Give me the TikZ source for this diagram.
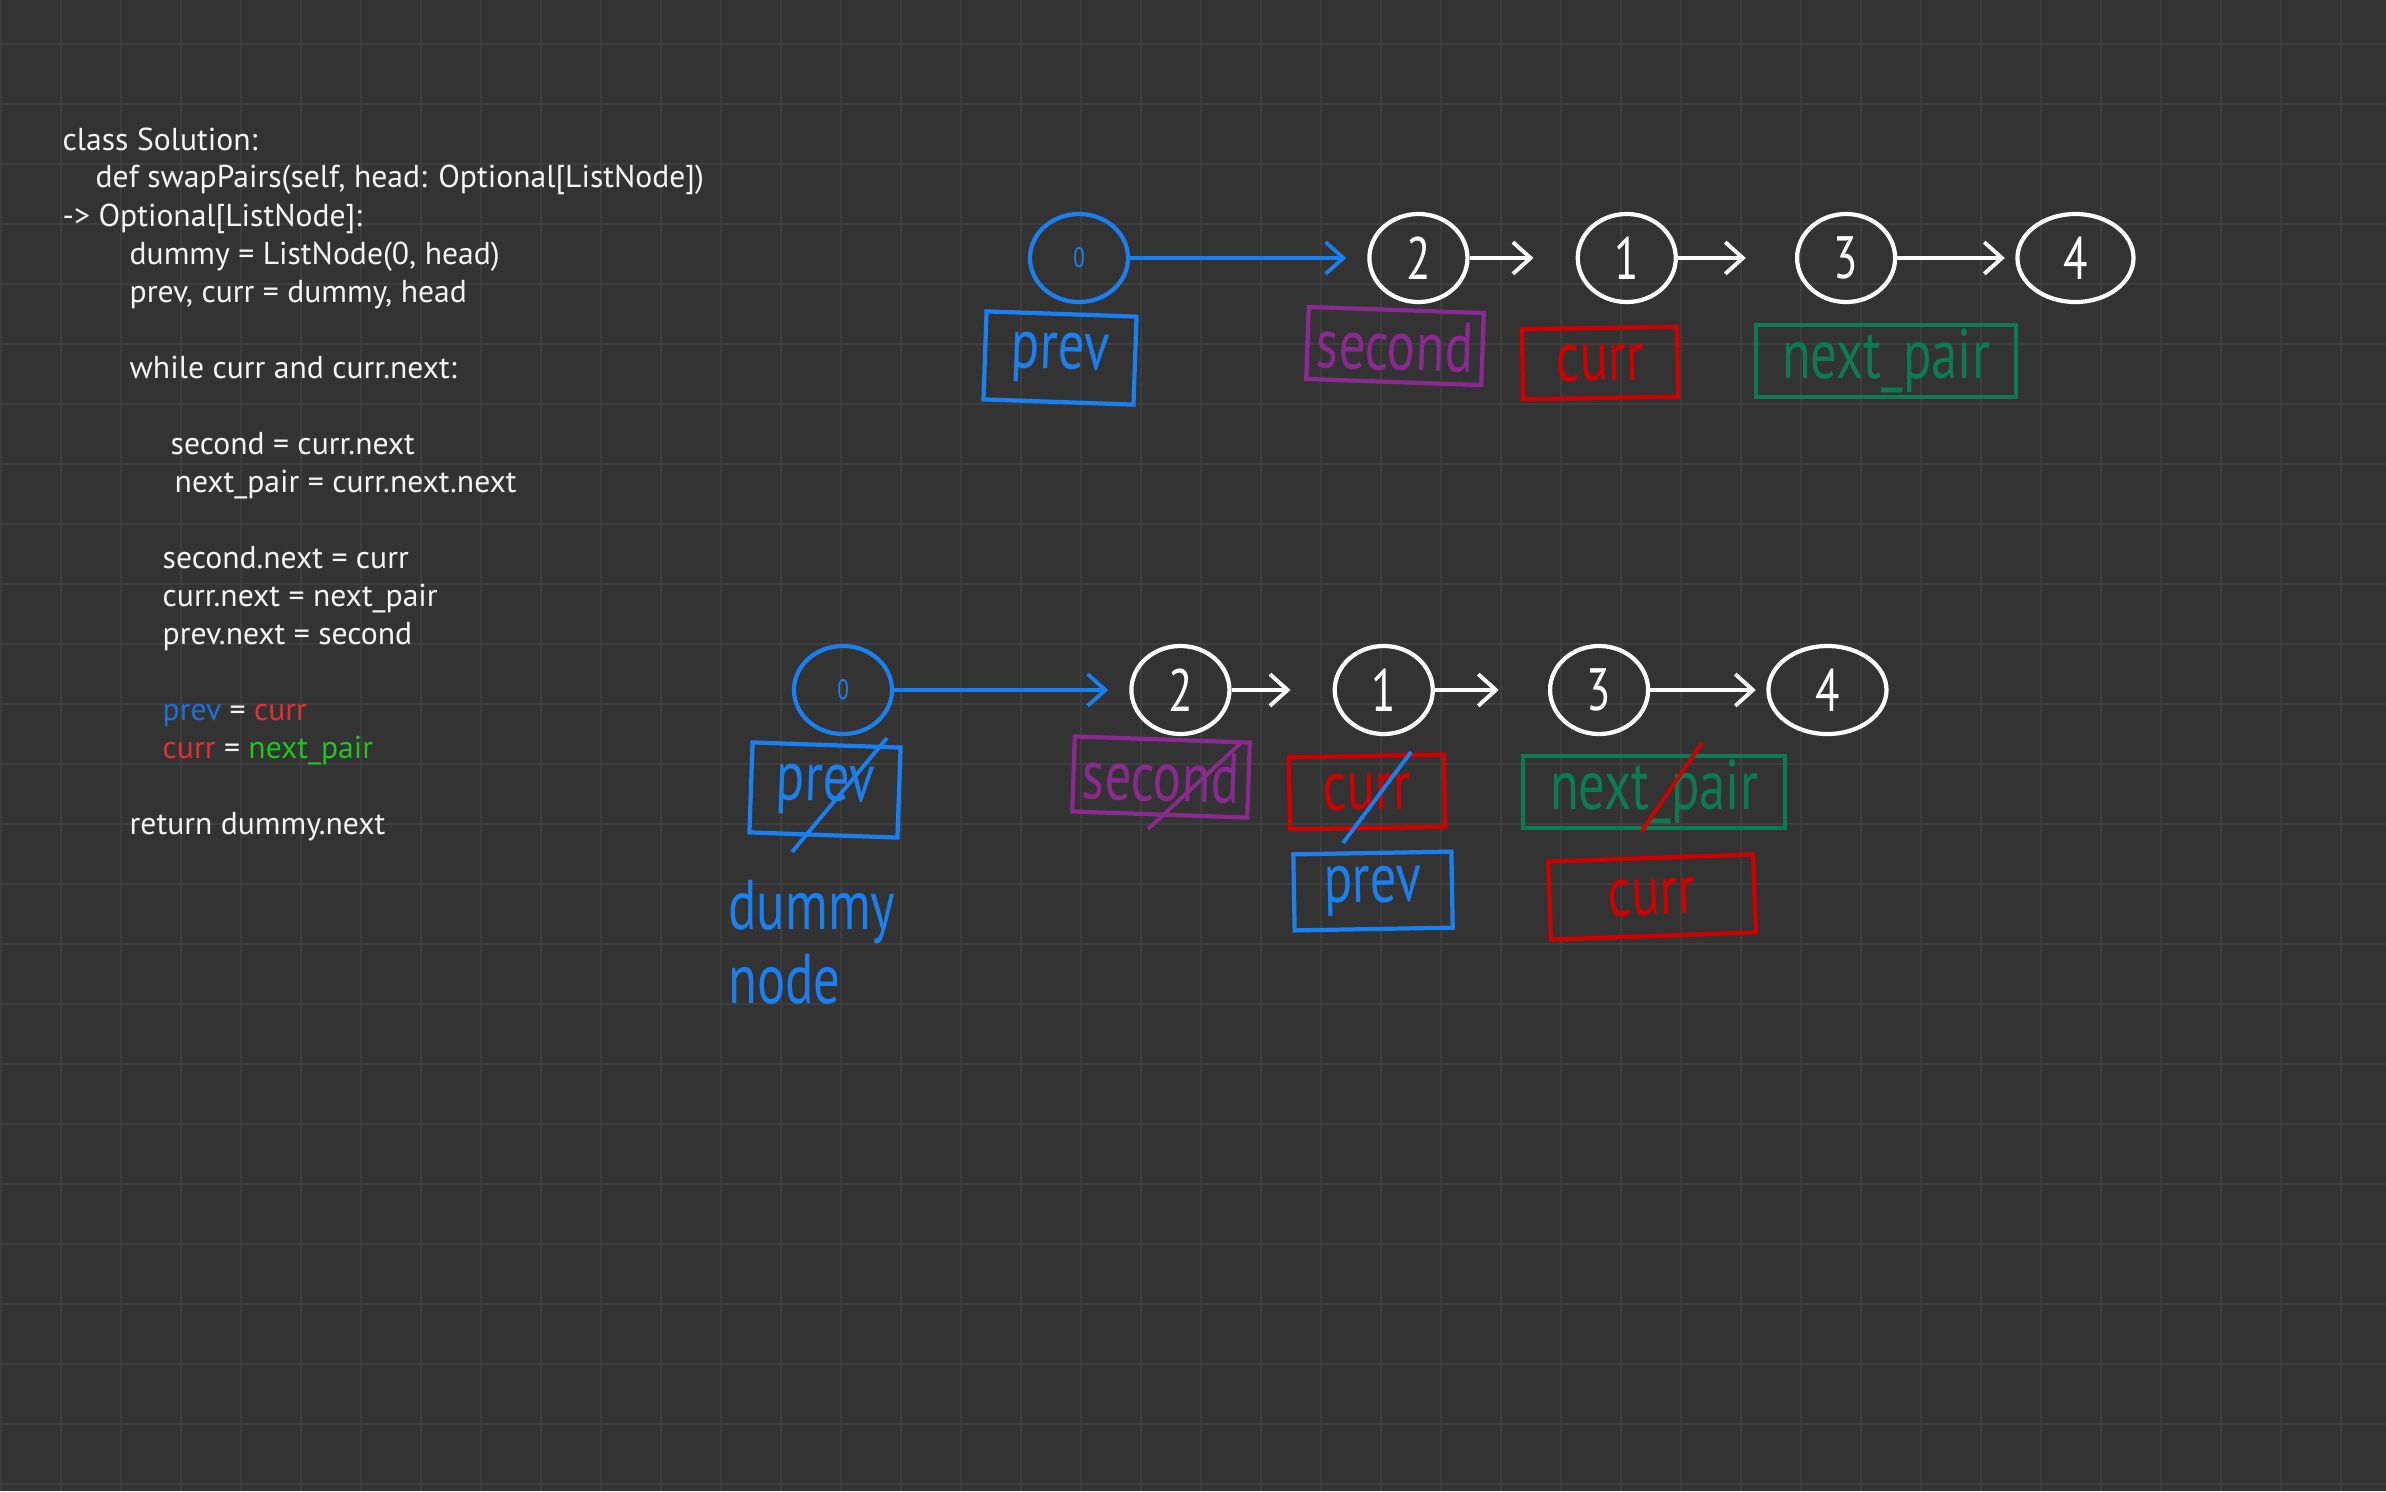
\documentclass[tikz,border=0pt]{standalone}
\usepackage{fontspec}
\setmainfont{PT Sans}
\newfontfamily\handfont[FakeStretch=0.75]{PT Sans}
\usetikzlibrary{shapes.geometric, arrows.meta, positioning}

\definecolor{board}{HTML}{333333}
\definecolor{gridc}{HTML}{3E3E3E}
\definecolor{codewhite}{HTML}{F4F4F4}
\definecolor{codeblue}{HTML}{1E6FD9}
\definecolor{codered}{HTML}{E23030}
\definecolor{codegreen}{HTML}{1FC41F}
\definecolor{penblue}{HTML}{1A80F0}
\definecolor{penpurple}{HTML}{8A2A90}
\definecolor{penred}{HTML}{D00000}
\definecolor{pengreen}{HTML}{0C7A52}

\begin{document}
\begin{tikzpicture}[
    x=0.01cm, y=-0.01cm,
    gridline/.style={draw=gridc, line width=0.6pt},
    code/.style={anchor=base west, inner sep=0pt, text=codewhite, font=\fontsize{9}{10}\selectfont},
    listnode/.style={draw=white, ellipse, line width=1.2pt, minimum width=0.98cm, minimum height=0.88cm, inner sep=0pt, text=white, font=\handfont\fontsize{17}{17}\selectfont},
    dummynode/.style={listnode, draw=penblue, text=penblue, font=\handfont\fontsize{8}{8}\selectfont},
    link/.style={white, line width=1.1pt, -{Straight Barb[length=5pt, width=9pt]}, shorten >=6pt},
    ptr/.style={draw, rectangle, line width=1.2pt, inner sep=0pt, font=\handfont\fontsize{20}{20}\selectfont},
    strike/.style={line width=1.1pt}
]
\useasboundingbox (0,0) rectangle (2386,1491);

% Board
\fill[board] (0,0) rectangle (2386,1491);
\foreach \gx in {1,61,...,2341} \draw[gridline] (\gx,0) -- (\gx,1491);
\foreach \gy in {44,104,...,1484} \draw[gridline] (0,\gy) -- (2386,\gy);

% Code
\node[code] (l1) at (62,150) {class Solution:};
\node[code] (l2) at (95,188) {def swapPairs(self, head: Optional[ListNode])};
\node[code] (l3) at (62,226) {-> Optional[ListNode]:};
\node[code] (l4) at (129,264) {dummy = ListNode(0, head)};
\node[code] (l5) at (129,302) {prev, curr = dummy, head};
\node[code] (l6) at (129,378) {while curr and curr.next:};
\node[code] (l7) at (170,454) {second = curr.next};
\node[code] (l8) at (174,492) {next\_pair = curr.next.next};
\node[code] (l9) at (162,568) {second.next = curr};
\node[code] (l10) at (162,606) {curr.next = next\_pair};
\node[code] (l11) at (162,644) {prev.next = second};
\node[code] (l12) at (162,720) {\textcolor{codeblue}{prev} = \textcolor{codered}{curr}};
\node[code] (l13) at (162,758) {\textcolor{codered}{curr} = \textcolor{codegreen}{next\_pair}};
\node[code] (l14) at (129,834) {return dummy.next};

% Top list
\node[dummynode] (t0) at (1079,258) {0};
\node[listnode] (t2) [right=2.37cm of t0] {2};
\node[listnode] (t1) [right=1.06cm of t2] {1};
\node[listnode] (t3) [right=1.17cm of t1] {3};
\node[listnode, minimum width=1.16cm] (t4) [right=1.18cm of t3] {4};
\draw[link, penblue] (t0) -- (t2);
\draw[link, shorten >=12pt] (t2) -- (t1);
\draw[link, shorten >=14pt] (t1) -- (t3);
\draw[link, shorten >=3pt] (t3) -- (t4);

\node[ptr, draw=penblue, text=penblue, minimum width=1.5cm, minimum height=0.88cm, rotate=-2] (tprev) at (1060,358) {prev};
\node[ptr, draw=penpurple, text=penpurple, minimum width=1.75cm, minimum height=0.72cm, rotate=-2] (tsecond) at (1395,346) {second};
\node[ptr, draw=penred, text=penred, minimum width=1.55cm, minimum height=0.7cm, rotate=1] (tcurr) at (1600,363) {curr};
\node[ptr, draw=pengreen, text=pengreen, minimum width=2.6cm, minimum height=0.72cm] (tnext) at (1886,361) {next\_pair};

% Bottom list
\node[dummynode] (b0) at (843,690) {0};
\node[listnode] (b2) [right=2.35cm of b0] {2};
\node[listnode] (b1) [right=1.01cm of b2] {1};
\node[listnode] (b3) [right=1.13cm of b1] {3};
\node[listnode, minimum width=1.18cm] (b4) [right=1.16cm of b3] {4};
\draw[link, penblue] (b0) -- (b2);
\draw[link, shorten >=12pt] (b2) -- (b1);
\draw[link, shorten >=14pt] (b1) -- (b3);
\draw[link, shorten >=3pt] (b3) -- (b4);

\node[ptr, draw=penblue, text=penblue, minimum width=1.48cm, minimum height=0.9cm, rotate=-2] (bprev) at (825,790) {prev};
\node[ptr, draw=penpurple, text=penpurple, minimum width=1.75cm, minimum height=0.75cm, rotate=-2] (bsecond) at (1161,777) {second};
\node[ptr, draw=penred, text=penred, minimum width=1.55cm, minimum height=0.72cm, rotate=1] (bcurr) at (1367,792) {curr};
\node[ptr, draw=pengreen, text=pengreen, minimum width=2.62cm, minimum height=0.72cm] (bnext) at (1654,792) {next\_pair};
\node[ptr, draw=penblue, text=penblue, minimum width=1.58cm, minimum height=0.76cm, rotate=1] (bprev2) at (1373,891) {prev};
\node[ptr, draw=penred, text=penred, minimum width=2.05cm, minimum height=0.78cm, rotate=2] (bcurr2) at (1652,897) {curr};

% Crossed out pointers
\draw[strike, penblue] ([shift={(62,-52)}]bprev.center) -- ([shift={(-33,62)}]bprev.center);
\draw[strike, penpurple] ([shift={(82,-36)}]bsecond.center) -- ([shift={(-13,52)}]bsecond.center);
\draw[strike, penblue] ([shift={(44,-40)}]bcurr.center) -- ([shift={(-24,51)}]bcurr.center);
\draw[strike, penred] ([shift={(48,-49)}]bnext.center) -- ([shift={(-13,40)}]bnext.center);

\node[text=penblue, align=left, inner sep=0pt, font=\handfont\fontsize{20}{21}\selectfont] (dnote) at (812,942) {dummy\\node};

\end{tikzpicture}
\end{document}
